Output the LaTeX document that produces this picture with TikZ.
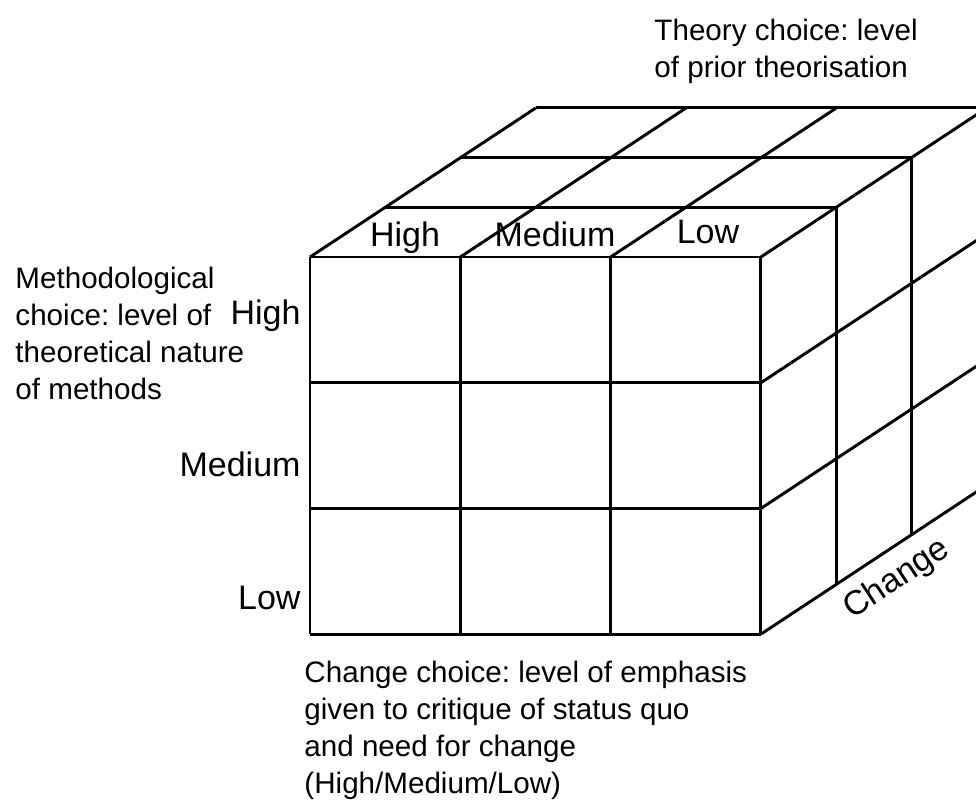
\documentclass[tikz,border=0pt]{standalone}
\usepackage{fontspec}
\setmainfont{Liberation Sans}
\usetikzlibrary{positioning}
\frenchspacing

\begin{document}
\begin{tikzpicture}[x=0.75pt,y=-0.75pt,line width=2.2pt,line join=miter,
  lbl/.style={font=\fontsize{25.5}{30}\selectfont, inner sep=0pt},
  caption/.style={font=\fontsize{22.2}{27.75}\selectfont, align=left, inner sep=0pt, anchor=north west}]
\useasboundingbox (0,0) rectangle (976,803);
\begin{scope}
\clip (0,0) rectangle (976,803);
% front face
\foreach \i in {0,...,3}
  \draw ({310+150.3*\i},257) -- ++(0,377);
\foreach \j in {0,...,3}
  \draw (310,{257+125.7*\j}) -- ++(451,0);
% top face
\foreach \k in {1,...,3}
  \draw ({310+75.3*\k},{257-49.7*\k}) -- ++(451,0);
\foreach \i in {0,...,3}
  \draw ({310+150.3*\i},257) -- ++(225.9,-149.1);
% right face
\foreach \k in {1,...,3}
  \draw ({761+75.3*\k},{257-49.7*\k}) -- ++(0,377);
\foreach \j in {1,...,3}
  \draw (761,{257+125.7*\j}) -- ++(225.9,-149.1);
\end{scope}

% labels on the cube
\node[lbl, anchor=base] (tHigh) at (405,246) {High};
\node[lbl, anchor=base] (tMedium) at (555,246) {Medium};
\node[lbl, anchor=base] (tLow) at (708,243) {Low};
\node[lbl, anchor=base east] (lHigh) at (302,324) {High};
\node[lbl, anchor=base east] (lMedium) at (302,476) {Medium};
\node[lbl, anchor=base east] (lLow) at (302,609) {Low};
\path (761,634) -- ++(225.9,-149.1) node[lbl, pos=0.53, sloped, below=9pt] (chg) {Change};

% axis captions
\node[caption] (theory) at (653,18) {Theory choice: level\\of prior theorisation};
\node[caption] (method) at (14,266) {Methodological\\choice: level of\\theoretical nature\\of methods};
\node[caption] (change) at (303,660) {Change choice: level of emphasis\\given to critique of status quo\\and need for change\\(High/Medium/Low)};
\end{tikzpicture}
\end{document}
